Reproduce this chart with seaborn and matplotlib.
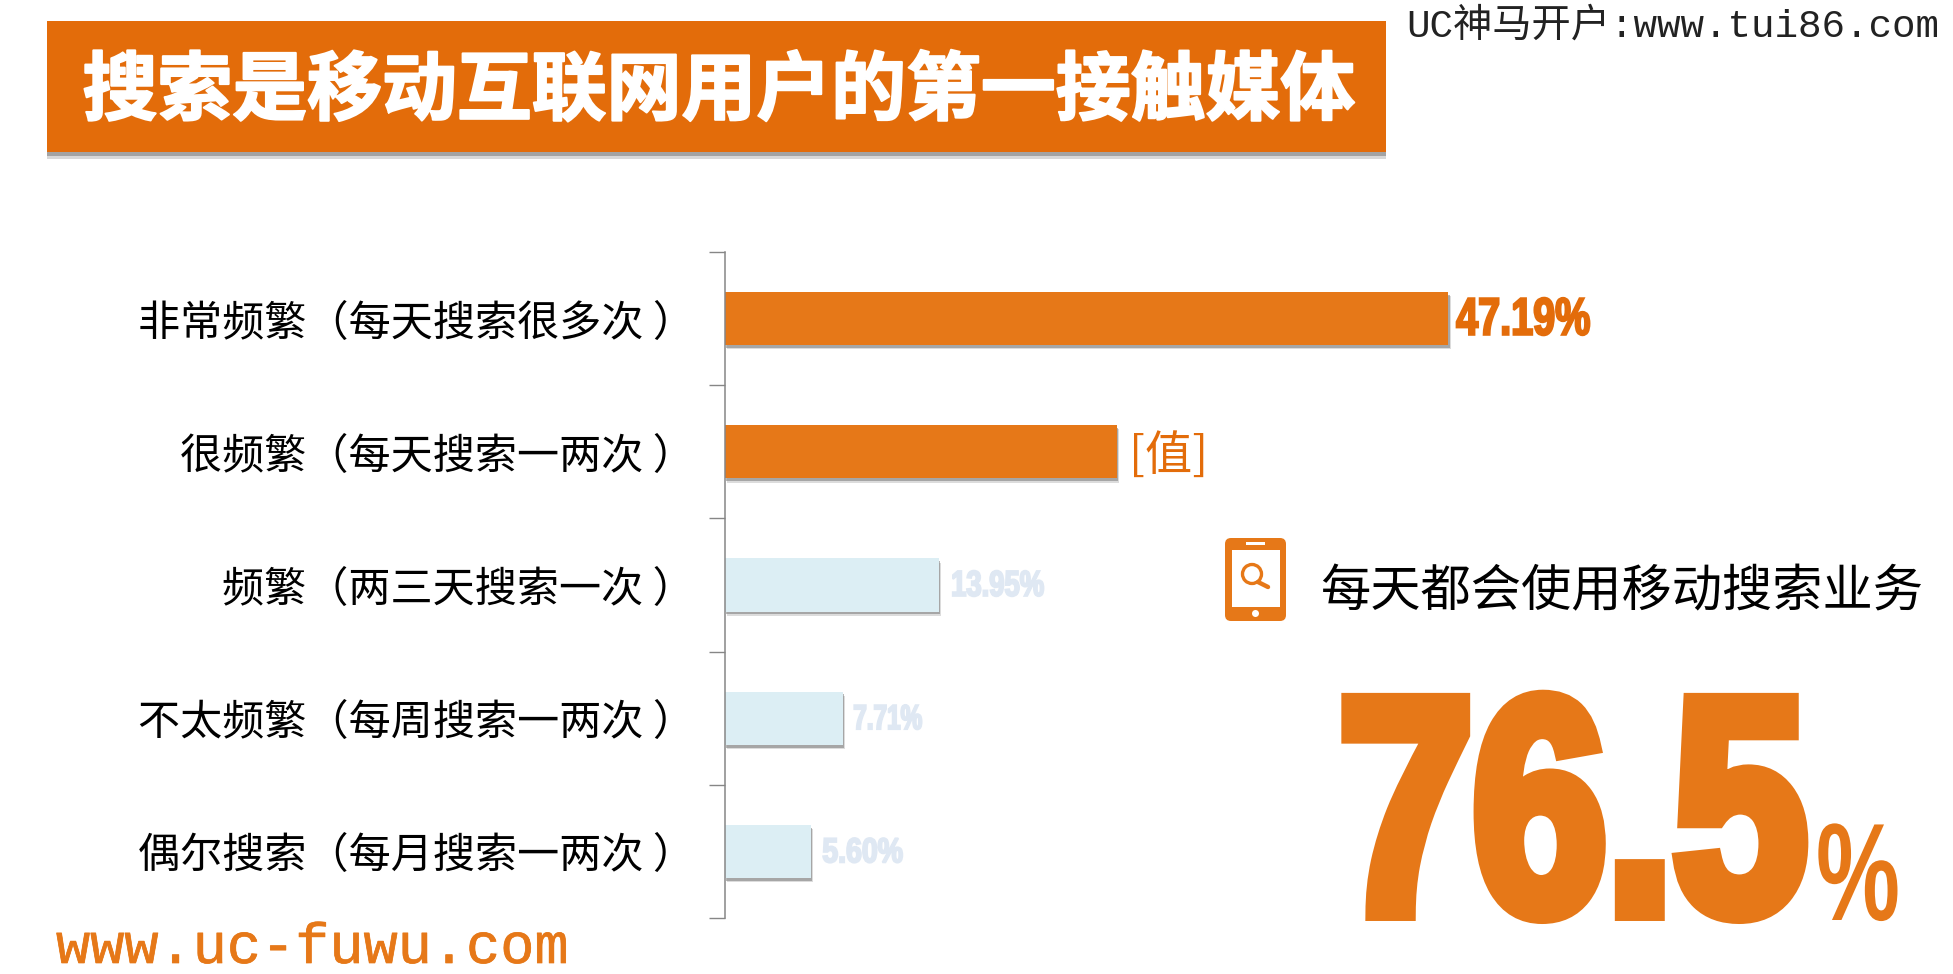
import matplotlib
matplotlib.use("Agg")
import matplotlib.pyplot as plt
import matplotlib.patheffects as pe
from matplotlib.patches import FancyBboxPatch, Rectangle, Circle
from matplotlib.lines import Line2D
from matplotlib.text import Text
from matplotlib.transforms import Affine2D, Bbox
import pandas as pd
import seaborn as sns

categories = ["非常频繁（每天搜索很多次 ）", "很频繁（每天搜索一两次 ）", "频繁（两三天搜索一次 ）",
              "不太频繁（每周搜索一两次 ）", "偶尔搜索（每月搜索一两次 ）"]
shares = [47.19, 25.55, 13.95, 7.71, 5.60]
value_labels = ["47.19%", "[值]", "13.95%", "7.71%", "5.60%"]
title_text = "搜索是移动互联网用户的第一接触媒体"
subtitle_text = "每天都会使用移动搜索业务"
headline_value = "76.5"
source_text = "UC神马开户:www.tui86.com"
site_text = "www.uc-fuwu.com"

W, H = 1953, 974
ORANGE = "#E67818"
DEEP = "#E36C0A"
PALE = "#DCEEF4"
PALE_TXT = "#DFE8F3"
CJK = ["Noto Sans CJK SC", "DejaVu Sans"]
HEAVY = ["Liberation Sans"]
MONO = ["Liberation Mono", "Noto Sans CJK SC"]

sns.set_theme(style="white")
plt.rcParams["font.family"] = CJK
plt.rcParams["axes.unicode_minus"] = False

fig = plt.figure(figsize=(W / 100, H / 100), dpi=100, facecolor="white")


class Condensed(pe.AbstractPathEffect):
    """Draws a left-aligned text narrower (like a condensed poster face) and heavier."""

    def __init__(self, text, sx, stroke):
        super().__init__()
        self.text, self.sx, self.stroke = text, sx, stroke
        self.x0 = None

    def draw_path(self, renderer, gc, tpath, affine, rgbFace=None):
        if self.x0 is None:
            self.x0 = Text.get_window_extent(self.text, fig.canvas.get_renderer()).x0
        aff = affine + Affine2D().translate(-self.x0, 0).scale(self.sx, 1).translate(self.x0, 0)
        if self.stroke > 0:
            g = renderer.new_gc()
            g.copy_properties(gc)
            g.set_foreground(rgbFace)
            g.set_linewidth(self.stroke)
            g.set_joinstyle("miter")
            renderer.draw_path(g, tpath, aff, rgbFace)
            g.restore()
        renderer.draw_path(gc, tpath, aff, rgbFace)


def condense(text, sx, stroke=0.0):
    text.set_path_effects([Condensed(text, sx, stroke)])

    def extent(renderer=None, dpi=None):
        b = Text.get_window_extent(text, renderer, dpi)
        h = b.y1 - b.y0
        return Bbox.from_extents(b.x0, b.y0 + 0.2 * h, b.x0 + (b.x1 - b.x0) * sx, b.y1 - 0.1 * h)

    text.get_window_extent = extent
    return text


# page-level overlay in pixel coordinates
bg = fig.add_axes([0, 0, 1, 1], zorder=0)
bg.set_xlim(0, W)
bg.set_ylim(H, 0)
bg.axis("off")

# plotting axes
PX_PER_PCT = 15.34
AX_L, AX_T, AX_B = 724.6, 252, 918
XMAX = 80
ax = fig.add_axes([AX_L / W, 1 - AX_B / H, XMAX * PX_PER_PCT / W, (AX_B - AX_T) / H], zorder=1)
ax.patch.set_alpha(0)

df = pd.DataFrame({"category": categories, "share": shares})
bar_colors = [ORANGE, ORANGE, PALE, PALE, PALE]
sns.barplot(data=df, y="category", x="share", hue="category", palette=bar_colors,
            legend=False, width=0.4, saturation=1, linewidth=0, edgecolor="none", ax=ax, orient="h")
ax.set_xlim(0, XMAX)
ax.set_ylim(4.5, -0.5)
ax.set_xlabel("")
ax.set_ylabel("")
ax.set_xticks([])
for side in ("top", "right", "bottom"):
    ax.spines[side].set_visible(False)
ax.spines["left"].set_color("#868686")
ax.spines["left"].set_linewidth(1.1)

ax.set_yticks([i - 0.5 for i in range(len(categories) + 1)])
ax.set_yticklabels([])
ax.tick_params(axis="y", which="major", length=11.5, width=1.0, color="#868686", left=True)
ax.set_yticks(range(len(categories)), labels=categories, minor=True)
ax.tick_params(axis="y", which="minor", length=0, pad=21.5, labelsize=30.3, labelcolor="black")

for bar in ax.patches:
    bar.set_path_effects([
        pe.SimplePatchShadow(offset=(1.6, -3.0), shadow_rgbFace="#8c8c8c", alpha=0.3),
        pe.SimplePatchShadow(offset=(1.0, -2.0), shadow_rgbFace="#7a7a7a", alpha=0.55),
        pe.Normal(),
    ])

label_style = [
    dict(fontsize=38, color=DEEP, dx=5.5, dy=-1.5, sx=0.75, stroke=1.6),
    dict(fontsize=34, color=DEEP, dx=9, dy=-3.5, sx=1.0, stroke=0.0),
    dict(fontsize=26, color=PALE_TXT, dx=9, dy=-1, sx=0.76, stroke=1.4),
    dict(fontsize=25, color=PALE_TXT, dx=7.5, dy=-1, sx=0.70, stroke=1.4),
    dict(fontsize=25, color=PALE_TXT, dx=8.5, dy=-1, sx=0.82, stroke=1.4),
]
for i, (v, txt, st) in enumerate(zip(shares, value_labels, label_style)):
    is_cjk = txt == "[值]"
    t = ax.annotate(txt, xy=(v, i), xytext=(st["dx"], st["dy"]), textcoords="offset points",
                    ha="left", va="center", fontsize=st["fontsize"], color=st["color"],
                    family=CJK if is_cjk else HEAVY, fontweight="normal" if is_cjk else "bold")
    if not is_cjk:
        condense(t, st["sx"], st["stroke"])

# title banner
banner = Rectangle((47, 21), 1339, 131, facecolor=DEEP, edgecolor="none",
                   path_effects=[pe.SimplePatchShadow(offset=(0, -5), shadow_rgbFace="#808080", alpha=0.3),
                                 pe.SimplePatchShadow(offset=(0, -3), shadow_rgbFace="#707070", alpha=0.5),
                                 pe.Normal()])
bg.add_patch(banner)
bg.text(719, 92, title_text, color="white", fontsize=53.9, fontweight="bold", family=CJK,
        ha="center", va="center",
        path_effects=[pe.withStroke(linewidth=1.5, foreground="white")])

# corner texts
bg.text(1939, 26, source_text, family=MONO, fontsize=28.3, color="#222222", ha="right", va="center")
bg.text(56, 948, site_text, family=MONO, fontsize=41, color=ORANGE, ha="left", va="center",
        path_effects=[pe.withStroke(linewidth=0.5, foreground=ORANGE)])

# phone icon
bg.add_patch(FancyBboxPatch((1228, 541), 55, 77, boxstyle="round,pad=3,rounding_size=6",
                            facecolor=ORANGE, edgecolor="none"))
bg.add_patch(Rectangle((1232, 550), 48, 57, facecolor="white", edgecolor="none"))
bg.add_patch(Rectangle((1246, 542), 19, 3, facecolor="white", edgecolor="none"))
bg.add_patch(Circle((1255.5, 613.5), 3.5, facecolor="white", edgecolor="none"))
bg.add_patch(Circle((1252, 574), 9.5, facecolor="none", edgecolor=ORANGE, linewidth=2.4))
bg.add_line(Line2D([1258, 1268], [582, 587], color=ORANGE, linewidth=3.2))

# call-out
bg.text(1320, 592, subtitle_text, color="black", fontsize=36.2, family=CJK, ha="left", va="center")
big = bg.text(1339, 913, headline_value, color=ORANGE, fontsize=222, family=HEAVY, fontweight="bold",
              ha="left", va="baseline")
condense(big, 0.78, 11.5)
pct = bg.text(1816, 920, "%", color=ORANGE, fontsize=100, family=HEAVY, fontweight="bold",
              ha="left", va="baseline")
condense(pct, 0.68)

fig.savefig("out.png", dpi=100, facecolor="white")
